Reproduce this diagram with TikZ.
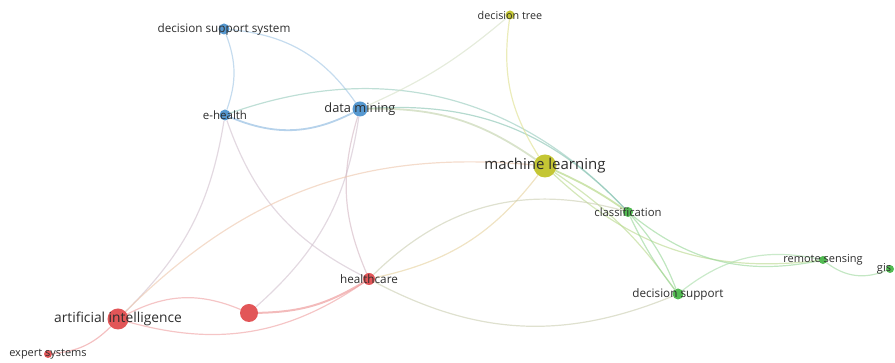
\documentclass[tikz,border=0pt]{standalone}
\usepackage{fontspec}
\setmainfont{Open Sans}
\usetikzlibrary{backgrounds}
\definecolor{nblue}{RGB}{86,152,208}
\definecolor{nyel}{RGB}{196,198,52}
\definecolor{ngreen}{RGB}{82,186,82}
\definecolor{nred}{RGB}{226,86,88}
\definecolor{txt}{RGB}{45,45,45}
\tikzset{
  dot/.style={circle, inner sep=0pt, minimum size=#1},
  lbl/.style={inner sep=0pt, text=txt, font=\fontsize{11.7}{13}\selectfont},
  lnk/.style={line width=1.2pt, opacity=0.62},
}
\begin{document}
\begin{tikzpicture}[x=1pt, y=1pt]
    \useasboundingbox (0,0) rectangle (895,363);
    %% blue cluster
    \node[dot=11, fill=nblue, label={[lbl]center:decision support system}] (dss) at (224,334) {};
    \node[dot=11, fill=nblue, label={[lbl, font=\fontsize{11.5}{13}\selectfont]center:e-health}] (eh) at (225,248) {};
    \node[dot=15, fill=nblue, label={[lbl, font=\fontsize{12.8}{14}\selectfont]center:data mining}] (dm) at (360,254) {};
    %% yellow cluster
    \node[dot=9, fill=nyel, label={[lbl, font=\fontsize{10.8}{12}\selectfont]center:decision tree}] (dt) at (510,348) {};
    \node[dot=23, fill=nyel, label={[lbl, font=\fontsize{15}{17}\selectfont]center:machine learning}] (ml) at (545,197) {};
    %% green cluster
    \node[dot=10, fill=ngreen, label={[lbl, font=\fontsize{11.3}{13}\selectfont]center:classification}] (cls) at (628,151) {};
    \node[dot=8, fill=ngreen, label={[lbl, font=\fontsize{11}{13}\selectfont]center:remote sensing}] (rs) at (823,103) {};
    \node[dot=8, fill=ngreen, label={[lbl, font=\fontsize{11}{13}\selectfont, xshift=-6pt]center:gis}] (gis) at (890,94) {};
    \node[dot=11, fill=ngreen, label={[lbl]center:decision support}] (ds) at (678,69) {};
    %% red cluster
    \node[dot=12, fill=nred, label={[lbl]center:healthcare}] (hc) at (369,84) {};
    \node[dot=18, fill=nred] (rn) at (249,50) {};
    \node[dot=21, fill=nred, label={[lbl, font=\fontsize{13.8}{16}\selectfont]center:artificial intelligence}] (ai) at (118,44) {};
    \node[dot=8, fill=nred, label={[lbl, font=\fontsize{11}{13}\selectfont]center:expert systems}] (es) at (48,9) {};

    \begin{pgfonlayer}{background}
    %% blue links
    \draw[lnk, nblue!55] (dss) to[bend left=20] (eh);
    \draw[lnk, nblue!55] (dss) to[bend left=25] (dm);
    \draw[lnk, nblue!70, line width=1.8pt] (eh) to[bend right=25] (dm);
    \draw[lnk, nblue!50!ngreen!60] (eh) to[bend left=33] (cls);
    \draw[lnk, nblue!50!ngreen!70] (dm) to[bend left=25] (cls);
    \draw[lnk, nblue!40!nyel!60, line width=1.8pt] (dm) to[bend left=18] (ml);
    \draw[lnk, nblue!40!nyel!40] (dm) to[bend right=8] (dt);
    \draw[lnk, nblue!50!nred!45] (eh) to[bend left=18] (ai);
    \draw[lnk, nblue!50!nred!45] (eh) to[bend right=22] (hc);
    \draw[lnk, nblue!50!nred!45] (dm) to[bend left=20] (rn);
    \draw[lnk, nblue!40!nred!50] (dm) to[bend right=20] (hc);
    %% yellow links
    \draw[lnk, nyel!55] (dt) to[bend right=20] (ml);
    \draw[lnk, nyel!70!nred!50] (ml) to[bend left=20] (hc);
    \draw[lnk, nyel!40!nred!45] (ai) to[bend left=25] (ml);
    \draw[lnk, nyel!50!ngreen!70, line width=1.8pt] (ml) to[bend left=5] (cls);
    \draw[lnk, nyel!50!ngreen!60] (ml) to[bend left=10] (ds);
    \draw[lnk, nyel!50!ngreen!60] (ml) to[bend right=25] (rs);
    %% green links
    \draw[lnk, ngreen!60] (cls) to[bend left=10] (ds);
    \draw[lnk, ngreen!60] (cls) to[bend right=6] (ds);
    \draw[lnk, ngreen!60] (cls) to[bend right=25] (rs);
    \draw[lnk, ngreen!50] (ds) to[bend left=25] (rs);
    \draw[lnk, ngreen!55] (rs) to[bend right=30] (gis);
    %% red links
    \draw[lnk, nred!40!ngreen!45] (hc) to[bend left=30] (cls);
    \draw[lnk, nred!40!ngreen!45] (hc) to[bend right=25] (ds);
    \draw[lnk, nred!55] (hc) to[bend left=25] (ai);
    \draw[lnk, nred!65, line width=2pt] (rn) to[bend right=15] (hc);
    \draw[lnk, nred!55] (ai) to[bend left=25] (rn);
    \draw[lnk, nred!60] (ai) to[bend left=20] (es);
    \end{pgfonlayer}
\end{tikzpicture}
\end{document}
